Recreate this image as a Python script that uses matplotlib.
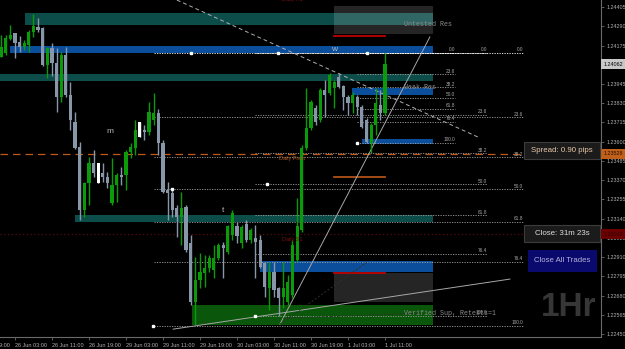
import matplotlib.pyplot as plt
from matplotlib.patches import Rectangle

# hourly candles, 25 Jun 20:00 .. 1 Jul 11:00 (broker time)
opens = [1.24106, 1.24130, 1.24214, 1.24250, 1.24196, 1.24166, 1.24178, 1.24256, 1.24286, 1.24280,
         1.24058, 1.24160, 1.24070, 1.23867, 1.24118, 1.23879, 1.23717, 1.23568, 1.23191, 1.23353,
         1.23472, 1.23472, 1.23412, 1.23389, 1.23233, 1.23341, 1.23401, 1.23401, 1.23538, 1.23562,
         1.23628, 1.23670, 1.23658, 1.23729, 1.23771, 1.23592, 1.23311, 1.23293, 1.23203, 1.23149,
         1.23209, 1.22994, 1.22641, 1.22773, 1.22814, 1.22844, 1.22832, 1.22904, 1.22982, 1.22940,
         1.23042, 1.23096, 1.22994, 1.23108, 1.23012, 1.23024, 1.23012, 1.22874, 1.22725, 1.22820,
         1.22725, 1.22671, 1.22641, 1.22683, 1.22892, 1.23072, 1.23562, 1.23682, 1.23801, 1.23729,
         1.23909, 1.23891, 1.23921, 1.23987, 1.23933, 1.23867, 1.23831, 1.23867, 1.23807, 1.23729,
         1.23592, 1.23700, 1.23819, 1.23771]
highs = [1.24238, 1.24238, 1.24297, 1.24250, 1.24232, 1.24208, 1.24268, 1.24363, 1.24339, 1.24286,
         1.24166, 1.24190, 1.24160, 1.24136, 1.24166, 1.23957, 1.23777, 1.23598, 1.23359, 1.23508,
         1.23550, 1.23472, 1.23472, 1.23418, 1.23502, 1.23412, 1.23448, 1.23550, 1.23592, 1.23729,
         1.23717, 1.23700, 1.23837, 1.23891, 1.23795, 1.23610, 1.23359, 1.23323, 1.23221, 1.23299,
         1.23221, 1.23042, 1.22910, 1.22934, 1.22922, 1.22922, 1.22982, 1.22994, 1.23000, 1.23102,
         1.23191, 1.23119, 1.23102, 1.23131, 1.23084, 1.23102, 1.23042, 1.22880, 1.22880, 1.22880,
         1.22731, 1.22880, 1.22802, 1.23012, 1.23263, 1.23580, 1.23921, 1.23849, 1.23819, 1.23921,
         1.23969, 1.24010, 1.23969, 1.24010, 1.23939, 1.23879, 1.23897, 1.23879, 1.23819, 1.23741,
         1.23711, 1.23921, 1.23909, 1.24130]
lows = [1.24106, 1.24118, 1.24208, 1.24100, 1.24136, 1.24148, 1.24136, 1.24226, 1.24256, 1.24052,
        1.23981, 1.23992, 1.23777, 1.23837, 1.23867, 1.23670, 1.23556, 1.23131, 1.23149, 1.23221,
        1.23389, 1.23353, 1.23359, 1.23323, 1.23221, 1.23239, 1.23341, 1.23311, 1.23502, 1.23520,
        1.23628, 1.23610, 1.23640, 1.23700, 1.23520, 1.23293, 1.23131, 1.23149, 1.23030, 1.22982,
        1.22940, 1.22623, 1.22504, 1.22725, 1.22731, 1.22820, 1.22785, 1.22892, 1.22785, 1.22928,
        1.23012, 1.22994, 1.22964, 1.23000, 1.22994, 1.22785, 1.22844, 1.22671, 1.22593, 1.22671,
        1.22560, 1.22605, 1.22623, 1.22665, 1.22880, 1.23060, 1.23550, 1.23670, 1.23700, 1.23717,
        1.23747, 1.23879, 1.23801, 1.23921, 1.23789, 1.23759, 1.23771, 1.23759, 1.23682, 1.23592,
        1.23532, 1.23640, 1.23729, 1.23759]
closes = [1.24166, 1.24220, 1.24238, 1.24190, 1.24166, 1.24190, 1.24256, 1.24292, 1.24268, 1.24058,
          1.24160, 1.24070, 1.23867, 1.24118, 1.23879, 1.23729, 1.23562, 1.23191, 1.23353, 1.23472,
          1.23412, 1.23353, 1.23389, 1.23353, 1.23341, 1.23401, 1.23389, 1.23538, 1.23568, 1.23670,
          1.23717, 1.23658, 1.23777, 1.23771, 1.23592, 1.23299, 1.23293, 1.23191, 1.23149, 1.23203,
          1.22952, 1.22641, 1.22773, 1.22820, 1.22844, 1.22904, 1.22904, 1.22982, 1.22964, 1.23096,
          1.23173, 1.23036, 1.23090, 1.23012, 1.23072, 1.23000, 1.22850, 1.22731, 1.22820, 1.22713,
          1.22665, 1.22725, 1.22761, 1.22982, 1.23096, 1.23562, 1.23682, 1.23837, 1.23717, 1.23909,
          1.23879, 1.23998, 1.23957, 1.23927, 1.23867, 1.23831, 1.23879, 1.23807, 1.23688, 1.23598,
          1.23700, 1.23831, 1.23771, 1.24062]
white_bars = [21, 30]

time_bars = [-5, 3, 11, 19, 27, 35, 43, 51, 59, 67, 75, 83]
time_labels = ['25 Jun 19:00', '26 Jun 03:00', '26 Jun 11:00', '26 Jun 19:00', '29 Jun 03:00',
               '29 Jun 11:00', '29 Jun 19:00', '30 Jun 03:00', '30 Jun 11:00', '30 Jun 19:00',
               '1 Jul 03:00', '1 Jul 11:00']
price_ticks = [1.24405, 1.24290, 1.24175, 1.24060, 1.23945, 1.23830, 1.23715, 1.23600, 1.23485,
               1.23370, 1.23255, 1.23140, 1.23025, 1.22910, 1.22795, 1.22680, 1.22565, 1.22450]

# supply / demand zones: start bar, low, high
res_start = [5.2, -1, 16]
res_low = [1.24297, 1.23963, 1.23119]
res_high = [1.24369, 1.24004, 1.23161]
blue_start = [1.9, 75.9, 78.0, 56.0]
blue_low = [1.24130, 1.23879, 1.23586, 1.22820]
blue_high = [1.24172, 1.23921, 1.23616, 1.22886]
sup_start = 41.3
sup_low, sup_high = 1.22504, 1.22623
zone_end = 93.4

# pending boxes with red entry line
box_low = [1.24244, 1.22641]
box_high = [1.24411, 1.22814]
box_line = [1.24232, 1.22814]
box_x = [72.0, 93.4]

bid = 1.24062
pivot = 1.23528
s1 = 1.23048
r1 = 1.24450
orange_level = 1.23389

# fibonacci retracements: start bar, end bar, 0% price, 100% price
fib_start = [77.0, 55.0, 33.0]
fib_end = [98.1, 105.1, 112.8]
fib_top = [1.24130, 1.24130, 1.24130]
fib_bottom = [1.23592, 1.22560, 1.22499]
fib_levels = [0.0, 23.6, 38.2, 50.0, 61.8, 76.4, 100.0]
mark_x = [32.9, 37.0, 41.1, 54.9, 57.5, 59.9, 77.0, 79.1]
mark_y = [1.22499, 1.23315, 1.24130, 1.22560, 1.23345, 1.24130, 1.23592, 1.24130]

# trend lines
trend_a = ([38.0, 103.1], [1.24447, 1.23628])
trend_b = ([60.3, 92.7], [1.22510, 1.24226])
trend_c = ([37.2, 110.0], [1.22480, 1.22779])
fan_1 = ([60.3, 79.1], [1.22510, 1.22880])
fan_2 = ([61.0, 90.6], [1.22545, 1.22575])

BULL = '#0a9a0a'
BEAR = '#8896aa'
TEAL = '#0c4d4a'
BLUE = '#0b4e9c'
SANS = 'Liberation Sans'
MONO = 'Liberation Mono'
TAG_X = 132.4   # centre of the price tags, right of the plot area

fig = plt.figure(figsize=(6.25, 3.49), dpi=100, facecolor='black')
ax = fig.add_axes([0, 12 / 349, 601 / 625, 337 / 349], facecolor='black')
ax.set_xlim(-0.24, 129.7)
ax.set_ylim(1.22433, 1.24447)


def fx(x):
    return x / 625


def fy(y):
    return 1 - y / 349


# zones
for s, lo, hi in zip(res_start, res_low, res_high):
    ax.add_patch(Rectangle((s, lo), zone_end - s, hi - lo, color=TEAL, lw=0, zorder=1))
for s, lo, hi in zip(blue_start, blue_low, blue_high):
    ax.add_patch(Rectangle((s, lo), zone_end - s, hi - lo, color=BLUE, lw=0, zorder=1))
ax.add_patch(Rectangle((sup_start, sup_low), zone_end - sup_start, sup_high - sup_low,
                       color='#0a560a', lw=0, zorder=1))
for lo, hi, ln in zip(box_low, box_high, box_line):
    ax.add_patch(Rectangle((box_x[0], lo), box_x[1] - box_x[0], hi - lo,
                           color='white', alpha=0.15, lw=0, zorder=2))
    ax.plot([box_x[0], 83], [ln, ln], color='#d00000', lw=1.2, zorder=3)
ax.plot([box_x[0], 83], [orange_level, orange_level], color='#c0581a', lw=1.2, zorder=3)

# daily pivots
ax.axhline(pivot, color='#c0581a', lw=0.9, ls=(0, (6, 4)), zorder=2)
ax.axhline(s1, color='#5a0a0a', lw=0.9, ls=(0, (1, 2)), zorder=2)

# fibonacci sets
for s, e, top, bot in zip(fib_start, fib_end, fib_top, fib_bottom):
    for lvl in fib_levels:
        p = top - lvl / 100 * (top - bot)
        c = 'white' if lvl == 0 else '#a0a0a0'
        ax.plot([s, e], [p, p], color=c, lw=0.6, ls=(0, (1.5, 1.5)), zorder=3)
        ax.text(e, p + 0.00004, '%.1f' % lvl, color='#a8a8a8', fontsize=3.4,
                family=SANS, ha='right', va='bottom', zorder=6)
ax.plot(mark_x, mark_y, 's', color='white', ms=2, zorder=6)

# trend lines
ax.plot(*trend_a, color='#b0b0b0', lw=0.7, ls=(0, (4, 3)), zorder=3)
ax.plot(*trend_b, color='#a8a8a8', lw=0.7, zorder=3)
ax.plot(*trend_c, color='#a8a8a8', lw=0.7, zorder=3)
ax.plot(*fan_1, color='#303030', lw=0.7, ls=(0, (2, 2)), zorder=3)
ax.plot(*fan_2, color='#303030', lw=0.7, ls=(0, (2, 2)), zorder=3)

# candles
xs = list(range(len(opens)))
cols = []
for i, (o, c) in enumerate(zip(opens, closes)):
    if i in white_bars:
        cols.append('white')
    else:
        cols.append(BULL if c >= o else BEAR)
ax.vlines(xs, lows, highs, colors=cols, lw=1, zorder=4)
bottoms = [min(o, c) for o, c in zip(opens, closes)]
heights = [max(abs(c - o), 0.00002) for o, c in zip(opens, closes)]
ax.bar(xs, heights, bottom=bottoms, width=0.7, color=cols, lw=0, zorder=5)

# zone and level labels
ax.text(87.1, 1.24303, 'Untested Res', color='#8a8a8a', fontsize=4.8, family=MONO,
        va='center', zorder=6)
ax.text(87.1, 1.23927, 'Weak Res', color='#8a8a8a', fontsize=4.8, family=MONO,
        va='center', zorder=6)
ax.text(87.1, 1.22575, 'Verified Sup, Retests=1', color='#8a8a8a', fontsize=4.8,
        family=MONO, va='center', zorder=6)
ax.text(60.1, 1.23502, 'Daily Pivot', color='#b05a20', fontsize=4, family=SANS,
        va='center', zorder=6)
ax.text(60.7, 1.23018, 'Daily S1', color='#7a1010', fontsize=4, family=SANS,
        va='center', zorder=6)
ax.text(60.7, r1, 'Daily R1', color='#7a1010', fontsize=4, family=SANS,
        va='center', zorder=6)
for x, y, s in [(-0.9, 1.24411, 'f'), (23.6, 1.23664, 'm'), (48, 1.23191, 't'),
                (72, 1.24154, 'w')]:
    ax.text(x, y, s, color='#b8b8b8', fontsize=6, family=SANS, ha='center',
            va='center', zorder=6)

# axes styling
for side in ['top', 'left']:
    ax.spines[side].set_visible(False)
for side in ['right', 'bottom']:
    ax.spines[side].set_color('#6a6a6a')
    ax.spines[side].set_linewidth(0.8)
ax.yaxis.tick_right()
ax.set_yticks(price_ticks)
ax.set_yticklabels(['%.5f' % p for p in price_ticks], family=SANS)
ax.tick_params(axis='y', colors='#6a6a6a', labelcolor='#b0b0b0', labelsize=3.9,
               length=2.5, width=0.6, pad=1.5)
ax.set_xticks([b for b in time_bars if b >= 0])
ax.set_xticklabels([])
ax.tick_params(axis='x', colors='#6a6a6a', length=2.5, width=0.6)
for b, s in zip(time_bars, time_labels):
    ax.text(b, -0.018, s, transform=ax.get_xaxis_transform(), color='#b0b0b0',
            fontsize=4, family=SANS, ha='left', va='top', clip_on=False)

# price tags on the axis, drawn over the tick labels they hide
for p, fc, tc in [(bid, '#c8c8c8', 'black'), (pivot, '#c0601a', '#2a1000'),
                  (s1, '#6a0000', '#300000')]:
    ax.text(TAG_X, p, '%.5f' % p, color=tc, fontsize=3.9, family=SANS, va='center',
            ha='center', clip_on=False, zorder=10,
            bbox=dict(boxstyle='square,pad=0.45', fc=fc, ec='none'))

# terminal panels
fig.add_artist(Rectangle((fx(524), fy(159)), fx(76), 17 / 349, fc='#1b1b1b',
                         ec='#3c3c3c', lw=0.8, zorder=8))
fig.text(fx(562), fy(151), 'Spread: 0.90 pips', color='#e8c8a8', fontsize=5.7,
         family=SANS, ha='center', va='center', zorder=9)
fig.add_artist(Rectangle((fx(524), fy(242)), fx(76), 17 / 349, fc='#1b1b1b',
                         ec='#3c3c3c', lw=0.8, zorder=8))
fig.text(fx(562), fy(233.5), 'Close: 31m 23s', color='#e0e0e0', fontsize=5.7,
         family=SANS, ha='center', va='center', zorder=9)
fig.add_artist(Rectangle((fx(528), fy(272)), fx(69), 22 / 349, fc='#0a0a6e',
                         ec='none', zorder=8))
fig.text(fx(562.5), fy(261), 'Close All Trades', color='#b4b4d8', fontsize=5.6,
         family=SANS, ha='center', va='center', zorder=9)
fig.text(fx(569), fy(308), '1Hr', color='#363636', fontsize=24, family=SANS,
         weight='bold', ha='center', va='center', zorder=9)

fig.savefig('out.png', dpi=100, facecolor='black')
